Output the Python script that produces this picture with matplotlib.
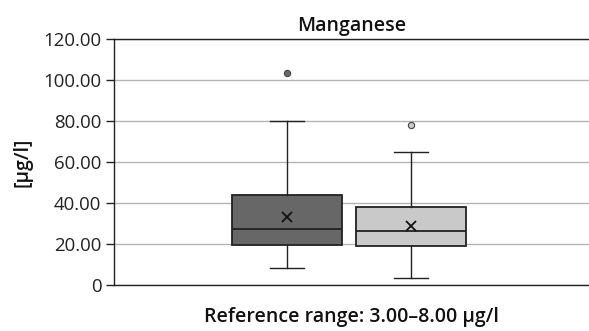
import matplotlib
matplotlib.use('Agg')
import matplotlib.pyplot as plt

plt.rcParams['font.family'] = ['Open Sans', 'DejaVu Sans']

# 箱线图数据
groups = ['A', 'B']
q1 = [19.5, 19.2]
med = [27.3, 26.5]
q3 = [44.0, 37.9]
whislo = [8.3, 3.4]
whishi = [80.0, 64.7]
means = [33.2, 28.8]
fliers = [[103.6], [78.0]]
box_colors = ['#676767', '#c9c9c9']
yticks = [0, 20, 40, 60, 80, 100, 120]
ytick_labels = ['0', '20.00', '40.00', '60.00', '80.00', '100.00', '120.00']

stats = []
for i in range(len(groups)):
    stats.append(dict(label=groups[i], q1=q1[i], med=med[i], q3=q3[i],
                      whislo=whislo[i], whishi=whishi[i], mean=means[i],
                      fliers=fliers[i]))

fig = plt.figure(figsize=(5.89, 3.31), dpi=100)
ax = fig.add_axes([0.1935, 0.139, 0.806, 0.743])

bp = ax.bxp(stats, positions=[1, 2], widths=0.887, patch_artist=True,
            showmeans=True, meanline=False, showfliers=True,
            boxprops=dict(edgecolor='#222222', linewidth=1.3),
            medianprops=dict(color='#222222', linewidth=1.3),
            whiskerprops=dict(color='#222222', linewidth=1.0),
            capprops=dict(color='#222222', linewidth=1.0),
            meanprops=dict(marker='x', markeredgecolor='#111111', markersize=7,
                           markeredgewidth=1.3),
            flierprops=dict(marker='o', markersize=4.5, markeredgecolor='#444444',
                            markeredgewidth=0.8))
for patch, c in zip(bp['boxes'], box_colors):
    patch.set_facecolor(c)
for fl, c in zip(bp['fliers'], box_colors):
    fl.set_markerfacecolor(c)
for cap in bp['caps']:
    x = cap.get_xdata()
    mid = (x[0] + x[1]) / 2
    cap.set_xdata([mid - 0.135, mid + 0.135])

ax.set_xlim(-0.395, 3.435)
ax.set_ylim(0, 120)
ax.set_yticks(yticks)
ax.set_yticklabels(ytick_labels, fontsize=13.4, color='#222222')
ax.set_xticks([])
ax.yaxis.grid(True, color='#b4b4b4', linewidth=1.0)
ax.set_axisbelow(True)
ax.tick_params(axis='y', direction='out', length=6, width=1.0, color='#222222', pad=3)

for s in ['right']:
    ax.spines[s].set_visible(False)
for s in ['left', 'bottom', 'top']:
    ax.spines[s].set_color('#222222')
    ax.spines[s].set_linewidth(1.0)

ax.set_title('Manganese', fontsize=14, fontweight='semibold', pad=6, color='#111111')
ax.set_ylabel('[µg/l]', fontsize=14, fontweight='semibold', color='#111111', labelpad=8)
ax.set_xlabel('Reference range: 3.00–8.00 µg/l', fontsize=14, fontweight='semibold',
              color='#111111', labelpad=16)

fig.savefig('out.png', dpi=100)
